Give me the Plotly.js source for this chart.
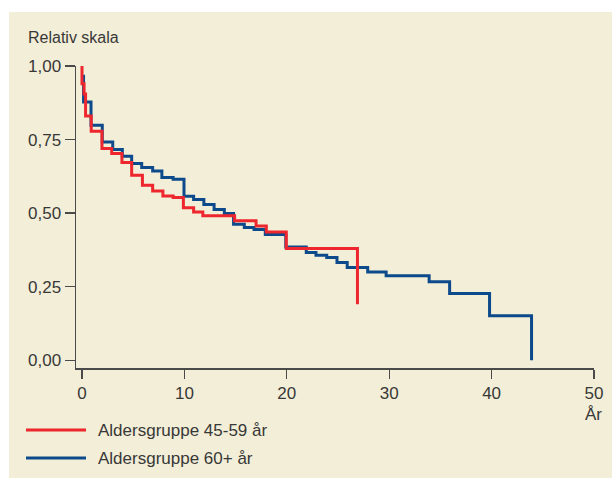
<!DOCTYPE html>
<html>
<head>
<meta charset="utf-8">
<script src="https://cdn.plot.ly/plotly-3.0.1.min.js"></script>
<style>html,body{margin:0;padding:0;background:#fff;}#chart{width:612px;height:478px;}</style>
</head>
<body>
<div id="chart"></div>
<script>
// Data (Kaplan-Meier style step curves)
const redYears = [0, 0, 0.2, 0.35, 0.9, 1.95, 2.9, 3.9, 4.85, 5.9, 6.9, 7.9, 8.9, 9.9, 10.9, 11.8, 14.9, 17.0, 18.0, 19.95, 26.9];
const redValues = [1.0, 0.94, 0.905, 0.83, 0.778, 0.72, 0.703, 0.672, 0.629, 0.595, 0.575, 0.558, 0.553, 0.518, 0.504, 0.491, 0.474, 0.456, 0.436, 0.380, 0.19];

const blueYears = [0.15, 0.15, 0.88, 1.98, 3.0, 3.94, 4.85, 5.83, 6.9, 7.8, 8.9, 9.96, 10.9, 11.9, 12.9, 13.9, 14.8, 15.85, 16.8, 17.9, 19.9, 21.9, 22.85, 23.9, 24.9, 25.9, 27.9, 29.7, 33.9, 35.9, 39.8, 43.9];
const blueValues = [0.97, 0.878, 0.799, 0.742, 0.716, 0.693, 0.669, 0.655, 0.643, 0.621, 0.615, 0.557, 0.546, 0.529, 0.512, 0.499, 0.462, 0.451, 0.444, 0.427, 0.385, 0.366, 0.357, 0.349, 0.332, 0.315, 0.30, 0.287, 0.267, 0.227, 0.151, 0.0];

const seriesNames = ["Aldersgruppe 45-59 år", "Aldersgruppe 60+ år"];
const yTickVals = [0, 0.25, 0.5, 0.75, 1.0];
const yTickText = ["0,00", "0,25", "0,50", "0,75", "1,00"];
const xTickVals = [0, 10, 20, 30, 40, 50];
const yLabel = "Relativ skala";
const xLabel = "År";

const RED = "#EE262D", BLUE = "#0D4A8B", TXT = "#383838", AX = "#4a4a4a";
const W = 612, H = 478, L = 76, R = 18, T = 66, B = 110;
const pw = W - L - R, ph = H - T - B;
const px = x => (x - L) / pw;          // pixel -> paper x
const py = y => (H - B - y) / ph;      // pixel -> paper y

const FAM = "Liberation Sans, Arial, sans-serif";
const font = {family: FAM, size: 17, color: TXT};
const smallFont = {family: FAM, size: 16, color: TXT};

const traces = [
  {x: blueYears, y: blueValues, type: "scatter", mode: "lines", line: {shape: "hv", color: BLUE, width: 3}, name: seriesNames[1], showlegend: false},
  {x: redYears, y: redValues, type: "scatter", mode: "lines", line: {shape: "hv", color: RED, width: 3}, name: seriesNames[0], showlegend: false}
];

const layout = {
  width: W, height: H,
  margin: {l: L, r: R, t: T, b: B, pad: 0},
  paper_bgcolor: "#ffffff",
  plot_bgcolor: "rgba(0,0,0,0)",
  font: font,
  showlegend: false,
  xaxis: {
    range: [-0.586, 50], tickvals: xTickVals, ticks: "outside", ticklen: 9, tickwidth: 1.3, tickcolor: AX,
    showline: true, linecolor: AX, linewidth: 1.5, showgrid: false, zeroline: false,
    tickfont: font, fixedrange: true
  },
  yaxis: {
    range: [-0.0265, 1.0], tickvals: yTickVals, ticktext: yTickText, ticks: "outside", ticklen: 10, tickwidth: 1.3, tickcolor: AX,
    showline: true, linecolor: AX, linewidth: 1.5, showgrid: false, zeroline: false,
    tickfont: font, fixedrange: true
  },
  shapes: [
    {type: "rect", xref: "paper", yref: "paper", x0: px(9), x1: px(612), y0: py(12), y1: py(478), fillcolor: "#F3EED7", line: {width: 0}, layer: "below"},
    {type: "line", xref: "paper", yref: "paper", x0: px(26), x1: px(86), y0: py(430), y1: py(430), line: {color: RED, width: 3}},
    {type: "line", xref: "paper", yref: "paper", x0: px(26), x1: px(86), y0: py(458), y1: py(458), line: {color: BLUE, width: 3}}
  ],
  annotations: [
    {text: yLabel, xref: "paper", yref: "paper", x: px(26), y: py(38), xanchor: "left", yanchor: "middle", showarrow: false, font: smallFont},
    {text: xLabel, xref: "paper", yref: "paper", x: px(593), y: py(414), xanchor: "center", yanchor: "middle", showarrow: false, font: font},
    {text: seriesNames[0], xref: "paper", yref: "paper", x: px(96), y: py(430), xanchor: "left", yanchor: "middle", showarrow: false, font: font},
    {text: seriesNames[1], xref: "paper", yref: "paper", x: px(96), y: py(458), xanchor: "left", yanchor: "middle", showarrow: false, font: font}
  ]
};

Plotly.newPlot("chart", traces, layout, {staticPlot: true, displayModeBar: false});
</script>
</body>
</html>
